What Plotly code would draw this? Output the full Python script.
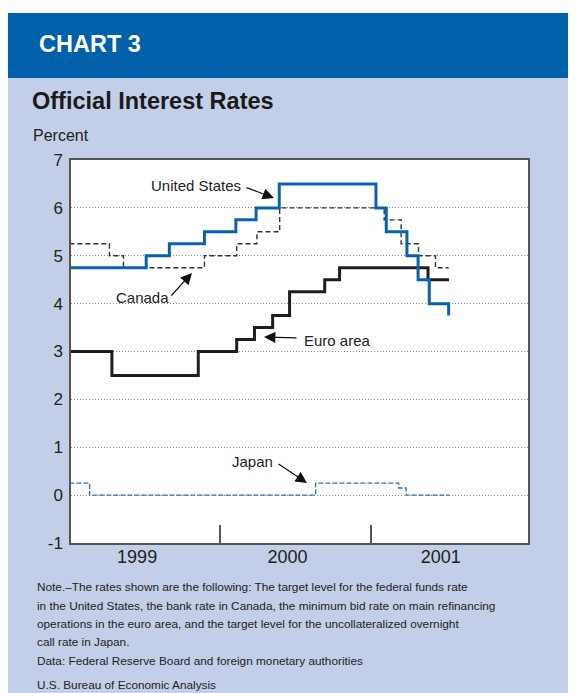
import plotly.graph_objects as go

# ---------------- data ----------------
us_dates = ["1999-01-01", "1999-07-06", "1999-08-31", "1999-11-24", "2000-02-08",
            "2000-03-28", "2000-05-23", "2001-01-12", "2001-02-06", "2001-03-28",
            "2001-04-24", "2001-05-21", "2001-07-07"]
us_rates = [4.75, 5.00, 5.25, 5.50, 5.75, 6.00, 6.50, 6.00, 5.50, 5.00, 4.50, 4.00, 3.75]

canada_dates = ["1999-01-01", "1999-04-08", "1999-05-12", "1999-11-24", "2000-02-10",
                "2000-03-30", "2000-05-24", "2001-02-01", "2001-03-14", "2001-04-25",
                "2001-06-05", "2001-07-07"]
canada_rates = [5.25, 5.00, 4.75, 5.00, 5.25, 5.50, 6.00, 5.75, 5.25, 5.00, 4.75, 4.75]

euro_dates = ["1999-01-01", "1999-04-14", "1999-11-09", "2000-02-10", "2000-03-24",
              "2000-05-07", "2000-06-17", "2000-09-10", "2000-10-16", "2001-05-18",
              "2001-07-08"]
euro_rates = [3.00, 2.50, 3.00, 3.25, 3.50, 3.75, 4.25, 4.50, 4.75, 4.50, 4.50]

japan_dates = ["1999-01-01", "1999-02-19", "2000-08-19", "2001-03-08", "2001-03-26",
               "2001-07-10"]
japan_rates = [0.25, 0.00, 0.25, 0.15, 0.00, 0.00]

year_tick_vals = ["1999-06-14", "2000-06-12", "2001-06-18"]
year_tick_text = ["1999", "2000", "2001"]
year_boundaries = ["2000-01-01", "2001-01-01"]
y_ticks = [-1, 0, 1, 2, 3, 4, 5, 6, 7]
y_tick_text = ["-1", "0", "1", "2", "3", "4", "5", "6", "7"]

note_lines = [
    "Note.\u2013The rates shown are the following: The target level for the federal funds rate",
    "in the United States, the bank rate in Canada, the minimum bid rate on main refinancing",
    "operations in the euro area, and the target level for the uncollateralized overnight",
    "call rate in Japan.",
    "Data: Federal Reserve Board and foreign monetary authorities",
]
source_line = "U.S. Bureau of Economic Analysis"

# ---------------- layout helpers ----------------
# the page adds an 8px body margin, so the figure is drawn 8px smaller
OFF = 8
PW, PH = 576, 693            # page (reference) size
FW, FH = PW - OFF, PH - OFF  # figure size
L, R, T, B = 71, 528, 160, 543   # plot area in page pixels
W, H = R - L, B - T


def px(x):
    return (x - L) / W


def py(y):
    return (B - y) / H


SANS = "Liberation Sans, Arial, Helvetica, sans-serif"
BLUE = "#0862ad"

fig = go.Figure()

fig.add_trace(go.Scatter(x=japan_dates, y=japan_rates, mode="lines", line_shape="hv",
                         line=dict(color="#2a74bd", width=1.4, dash="5px,2px"), name="Japan"))
fig.add_trace(go.Scatter(x=canada_dates, y=canada_rates, mode="lines", line_shape="hv",
                         line=dict(color="#333333", width=1.4, dash="5px,3px"), name="Canada"))
fig.add_trace(go.Scatter(x=euro_dates, y=euro_rates, mode="lines", line_shape="hv",
                         line=dict(color="#1e1e1e", width=3), name="Euro area"))
fig.add_trace(go.Scatter(x=us_dates, y=us_rates, mode="lines", line_shape="hv",
                         line=dict(color=BLUE, width=3), name="United States"))

shapes = [
    dict(type="rect", xref="paper", yref="paper", x0=px(7), x1=px(PW + 5), y0=py(PH + 5), y1=py(78),
         fillcolor="#c3cfe8", line=dict(width=0), layer="below"),
    dict(type="rect", xref="paper", yref="paper", x0=px(7), x1=px(PW + 5), y0=py(78), y1=py(13),
         fillcolor="#0060aa", line=dict(width=0), layer="below"),
    dict(type="rect", xref="paper", yref="paper", x0=0, x1=1, y0=0, y1=1,
         fillcolor="white", line=dict(width=0), layer="below"),
]

annotations = []


def text_ann(txt, x, y, size, xanchor="left", color="#222", family=SANS, bold=False):
    if bold:
        txt = "<b>" + txt + "</b>"
    annotations.append(dict(text=txt, xref="paper", yref="paper", x=px(x), y=py(y),
                            xanchor=xanchor, yanchor="middle", showarrow=False,
                            font=dict(size=size, color=color, family=family)))


def arrow(hx, hy, tx, ty):
    annotations.append(dict(text="", xref="paper", yref="paper", x=px(hx), y=py(hy),
                            ax=tx - hx, ay=ty - hy, axref="pixel", ayref="pixel",
                            showarrow=True, arrowhead=2, arrowsize=1.9, arrowwidth=1.2,
                            arrowcolor="#111", standoff=0))


text_ann("CHART 3", 37, 44, 23.5, color="white", bold=True)
text_ann("Official Interest Rates", 30, 101, 23.5, color="#1a1a1a", bold=True)
text_ann("Percent", 31, 136, 16, color="#222")

text_ann("United States", 196, 185, 15, xanchor="center")
arrow(274, 198, 245, 187)
text_ann("Canada", 142, 297, 15, xanchor="center")
arrow(192, 273, 170, 297)
text_ann("Euro area", 302, 340, 15, xanchor="left")
arrow(264, 337, 298, 338)
text_ann("Japan", 252, 461, 15, xanchor="center")
arrow(307, 483, 277, 463)

note_y = [587, 605.5, 623.5, 642, 661]
for line, yy in zip(note_lines, note_y):
    text_ann(line, 35, yy, 11.8)
text_ann(source_line, 35, 685, 11.8)

fig.update_layout(
    width=FW, height=FH,
    margin=dict(l=L - OFF, r=PW - R, t=T - OFF, b=PH - B, pad=0),
    paper_bgcolor="white", plot_bgcolor="rgba(0,0,0,0)",
    showlegend=False,
    shapes=shapes, annotations=annotations,
    xaxis=dict(type="date", range=["1999-01-05", "2002-01-15"],
               tickmode="array", tickvals=year_tick_vals, ticktext=year_tick_text,
               ticks="", ticklabelstandoff=-3,
               tickfont=dict(size=18, color="#222", family=SANS),
               showgrid=False, zeroline=False,
               showline=True, mirror=True, linecolor="#555", linewidth=1.5,
               minor=dict(tickmode="array", tickvals=year_boundaries, ticks="inside",
                          ticklen=18, tickwidth=1.5, tickcolor="#555", showgrid=False)),
    yaxis=dict(range=[-1, 7], tickmode="array", tickvals=y_ticks, ticktext=y_tick_text,
               ticks="outside", ticklen=3, tickcolor="rgba(0,0,0,0)",
               tickfont=dict(size=17, color="#222", family=SANS),
               showgrid=True, gridcolor="#888", gridwidth=1, griddash="1px,2px",
               zeroline=False,
               showline=True, mirror=True, linecolor="#555", linewidth=1.5),
)

fig.write_html("out.html")
